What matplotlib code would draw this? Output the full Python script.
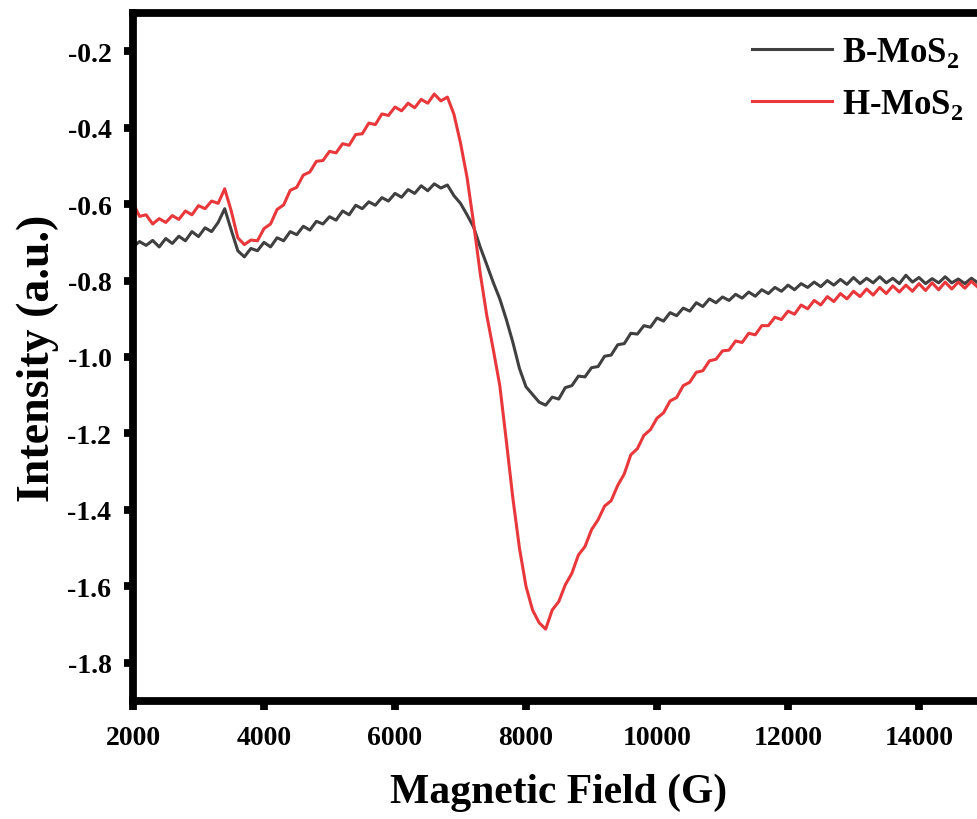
import numpy as np
import matplotlib
matplotlib.use('Agg')
import matplotlib.pyplot as plt

# EPR spectra, B-MoS2 vs H-MoS2
field = np.arange(2000, 15001, 100)  # G

b_mos2 = [
    -0.712, -0.698, -0.708, -0.695, -0.712, -0.690, -0.703, -0.684, -0.696, -0.672,
    -0.685, -0.662, -0.672, -0.648, -0.612, -0.668, -0.722, -0.738, -0.716, -0.722,
    -0.700, -0.712, -0.688, -0.696, -0.672, -0.680, -0.658, -0.668, -0.645, -0.652,
    -0.633, -0.642, -0.618, -0.628, -0.603, -0.612, -0.594, -0.603, -0.583, -0.592,
    -0.572, -0.582, -0.562, -0.572, -0.552, -0.565, -0.547, -0.558, -0.550, -0.578,
    -0.598, -0.628, -0.660, -0.712, -0.758, -0.805, -0.848, -0.902, -0.962, -1.030,
    -1.078, -1.098, -1.118, -1.126, -1.105, -1.110, -1.080, -1.075, -1.050, -1.052,
    -1.028, -1.025, -0.998, -0.995, -0.968, -0.965, -0.938, -0.940, -0.918, -0.922,
    -0.898, -0.906, -0.884, -0.892, -0.872, -0.880, -0.858, -0.868, -0.848, -0.858,
    -0.843, -0.852, -0.836, -0.846, -0.830, -0.841, -0.824, -0.834, -0.818, -0.828,
    -0.812, -0.824, -0.808, -0.818, -0.804, -0.816, -0.800, -0.812, -0.797, -0.810,
    -0.792, -0.808, -0.794, -0.806, -0.790, -0.806, -0.794, -0.808, -0.786, -0.804,
    -0.792, -0.808, -0.795, -0.806, -0.790, -0.806, -0.796, -0.808, -0.794, -0.806,
    -0.798,
]

h_mos2 = [
    -0.598, -0.632, -0.628, -0.652, -0.638, -0.648, -0.630, -0.640, -0.618, -0.628,
    -0.604, -0.612, -0.592, -0.598, -0.560, -0.618, -0.688, -0.706, -0.694, -0.696,
    -0.664, -0.652, -0.614, -0.602, -0.564, -0.556, -0.524, -0.516, -0.488, -0.486,
    -0.462, -0.466, -0.442, -0.446, -0.418, -0.416, -0.388, -0.392, -0.364, -0.368,
    -0.346, -0.356, -0.336, -0.348, -0.326, -0.336, -0.312, -0.330, -0.320, -0.365,
    -0.440, -0.530, -0.650, -0.780, -0.890, -0.980, -1.075, -1.220, -1.370, -1.500,
    -1.600, -1.662, -1.695, -1.712, -1.662, -1.640, -1.596, -1.566, -1.518, -1.496,
    -1.452, -1.426, -1.390, -1.376, -1.336, -1.306, -1.256, -1.240, -1.205, -1.190,
    -1.160, -1.146, -1.115, -1.106, -1.075, -1.066, -1.040, -1.036, -1.010, -1.006,
    -0.984, -0.982, -0.958, -0.962, -0.938, -0.942, -0.918, -0.918, -0.896, -0.902,
    -0.880, -0.888, -0.864, -0.874, -0.852, -0.864, -0.842, -0.855, -0.834, -0.848,
    -0.828, -0.842, -0.822, -0.838, -0.818, -0.834, -0.814, -0.830, -0.812, -0.828,
    -0.808, -0.826, -0.806, -0.824, -0.804, -0.822, -0.804, -0.820, -0.802, -0.818,
    -0.806,
]

labels = [r'B-MoS$_{\mathbf{2}}$', r'H-MoS$_{\mathbf{2}}$']
colors = ['#404040', '#e8383b']
xticks = [2000, 4000, 6000, 8000, 10000, 12000, 14000]
yticks = [-1.8, -1.6, -1.4, -1.2, -1.0, -0.8, -0.6, -0.4, -0.2]

plt.rcParams['font.family'] = 'Liberation Serif'
plt.rcParams['font.weight'] = 'bold'
plt.rcParams['axes.unicode_minus'] = False
plt.rcParams['mathtext.fontset'] = 'custom'
plt.rcParams['mathtext.rm'] = 'Liberation Serif:bold'
plt.rcParams['mathtext.bf'] = 'Liberation Serif:bold'

fig = plt.figure(figsize=(9.77, 8.2), dpi=100)
# axes run past the right edge of the picture, as in the original crop
ax = fig.add_axes([133 / 977, 118 / 820, (984.5 - 133) / 977, (806 - 118) / 820])

ax.plot(field, b_mos2, color=colors[0], lw=2.2, label=labels[0])
ax.plot(field, h_mos2, color=colors[1], lw=2.2, label=labels[1])

ax.set_xlim(2000, 15000)
ax.set_ylim(-1.9, -0.1)
ax.set_xticks(xticks)
ax.set_yticks(yticks)
ax.set_yticklabels(['%.1f' % v for v in yticks])

for s in ax.spines.values():
    s.set_linewidth(5.6)
ax.tick_params(direction='out', length=6.5, width=5.6, labelsize=20,
               top=False, right=False)
ax.tick_params(axis='x', pad=11)
ax.tick_params(axis='y', pad=9)

ax.set_xlabel('Magnetic Field (G)', fontsize=30, fontweight='bold', labelpad=16)
ax.set_ylabel('Intensity (a.u.)', fontsize=33, fontweight='bold', labelpad=6)

leg = ax.legend(loc='upper left', bbox_to_anchor=(752 / 977, 1 - 36 / 820),
                bbox_transform=fig.transFigure, frameon=False, fontsize=25,
                handlelength=2.3, handletextpad=0.3, labelspacing=0.52,
                borderpad=0, borderaxespad=0)

fig.savefig('out.png', dpi=100)
